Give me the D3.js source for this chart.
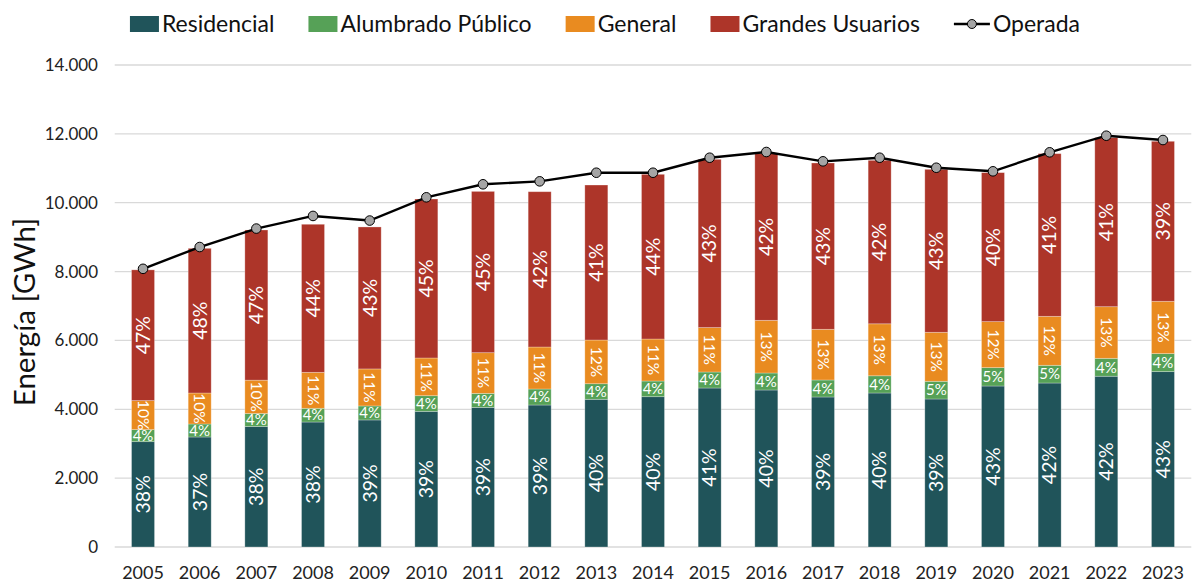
<!DOCTYPE html>
<html><head><meta charset="utf-8">
<script src="https://cdn.jsdelivr.net/npm/d3@7"></script>
<style>body{margin:0;background:#fff}svg{display:block}text{font-family:Lato,"Noto Sans",sans-serif}</style>
</head><body><svg id="c" width="1196" height="584"></svg>
<script>
const years = ["2005","2006","2007","2008","2009","2010","2011","2012","2013","2014","2015","2016","2017","2018","2019","2020","2021","2022","2023"];
const residencial = [3060,3195,3500,3630,3690,3940,4055,4124,4290,4366,4618,4560,4357,4473,4299,4676,4763,4960,5094];
const alumbrado   = [350,378,378,398,407,455,407,465,453,455,465,494,494,500,514,534,514,520,523];
const general     = [842,900,968,1045,1075,1095,1182,1220,1269,1220,1290,1530,1472,1510,1423,1336,1423,1500,1520];
const grandes     = [3798,4202,4362,4301,4124,4618,4685,4511,4502,4784,4887,4841,4831,4748,4734,4328,4725,4910,4647];
const operada     = [8080,8713,9249,9616,9482,10157,10535,10621,10871,10871,11307,11473,11202,11307,11016,10912,11464,11946,11821];
const pctRes = [38,37,38,38,39,39,39,39,40,40,41,40,39,40,39,43,42,42,43];
const pctAlu = [4,4,4,4,4,4,4,4,4,4,4,4,4,4,5,5,5,4,4];
const pctGen = [10,10,10,11,11,11,11,11,12,11,11,13,13,13,13,12,12,13,13];
const pctGra = [47,48,47,44,43,45,45,42,41,44,43,42,43,42,43,40,41,41,39];
const yTicks = [0,2000,4000,6000,8000,10000,12000,14000];
const seriesNames = ["Residencial","Alumbrado Público","General","Grandes Usuarios"];
const lineName = "Operada";
const colors = ["#20545A","#56A157","#E98B20","#AD3529"];

const svg = d3.select("#c");
const x = d3.scaleBand().domain(years).range([114.7,1191.3]).paddingInner(0.594).paddingOuter(0.297);
const y = d3.scaleLinear().domain([0,14000]).range([547,65]);

svg.append("g").selectAll("line").data(yTicks).join("line")
  .attr("x1",114.7).attr("x2",1191.3).attr("y1",d=>y(d)).attr("y2",d=>y(d))
  .attr("stroke","#D9D9D9").attr("stroke-width",1.3);

const fmt = d => d3.format(",")(d).replace(/,/g,".");
svg.append("g").selectAll("text").data(yTicks).join("text")
  .attr("x",98).attr("y",d=>y(d)).attr("dy","0.35em").attr("text-anchor","end")
  .attr("font-size",17).attr("fill","#222").text(fmt);

svg.append("g").selectAll("text").data(years).join("text")
  .attr("x",d=>x(d)+x.bandwidth()/2).attr("y",579).attr("text-anchor","middle")
  .attr("font-size",18).attr("fill","#222").text(d=>d);

svg.append("text").attr("transform","translate(35,312) rotate(-90)").attr("text-anchor","middle")
  .attr("font-size",29.5).attr("fill","#111").text("Energía [GWh]");

const rows = years.map((yr,i)=>({year:yr,s0:residencial[i],s1:alumbrado[i],s2:general[i],s3:grandes[i]}));
const stack = d3.stack().keys(["s0","s1","s2","s3"])(rows);
const pcts = [pctRes,pctAlu,pctGen,pctGra];

const gBars = svg.append("g");
stack.forEach((layer,k)=>{
  gBars.append("g").selectAll("rect").data(layer).join("rect")
    .attr("x",d=>x(d.data.year)).attr("width",x.bandwidth())
    .attr("y",d=>y(d[1])).attr("height",d=>y(d[0])-y(d[1]))
    .attr("fill",colors[k]).attr("stroke","rgba(255,255,255,0.35)").attr("stroke-width",0.8);
});

stack.forEach((layer,k)=>{
  const g = svg.append("g");
  layer.forEach((d,i)=>{
    const cx = x(d.data.year)+x.bandwidth()/2;
    const cy = (y(d[0])+y(d[1]))/2;
    const t = g.append("text").attr("fill","#fff").attr("text-anchor","middle").attr("dy","0.35em").text(pcts[k][i]+"%");
    if(k===1){
      t.attr("x",cx).attr("y",cy).attr("font-size",15);
    } else if(k===2){
      t.attr("transform",`translate(${cx},${cy}) rotate(90)`).attr("font-size",15.5);
    } else {
      t.attr("transform",`translate(${cx},${cy}) rotate(-90)`).attr("font-size",19.5);
    }
  });
});

const line = d3.line().x((d,i)=>x(years[i])+x.bandwidth()/2).y(d=>y(d));
svg.append("path").datum(operada).attr("d",line).attr("fill","none").attr("stroke","#000").attr("stroke-width",2.4);
svg.append("g").selectAll("circle").data(operada).join("circle")
  .attr("cx",(d,i)=>x(years[i])+x.bandwidth()/2).attr("cy",d=>y(d)).attr("r",4.8)
  .attr("fill","#A5A5A5").attr("stroke","#000").attr("stroke-width",1);

const lg = svg.append("g");
const items = seriesNames.map((n,i)=>({name:n,type:"rect",color:colors[i]})).concat([{name:lineName,type:"line"}]);
let cx = 0;
items.forEach(it=>{
  const g = lg.append("g").attr("transform",`translate(${cx},0)`);
  let sw;
  if(it.type==="rect"){
    g.append("rect").attr("x",0).attr("y",16).attr("width",29).attr("height",16).attr("fill",it.color);
    sw=29;
  } else {
    g.append("line").attr("x1",0).attr("x2",36).attr("y1",24).attr("y2",24).attr("stroke","#000").attr("stroke-width",2.4);
    g.append("circle").attr("cx",18).attr("cy",24).attr("r",4.5).attr("fill","#A5A5A5").attr("stroke","#000");
    sw=36;
  }
  const t = g.append("text").attr("x",sw+3).attr("y",32).attr("font-size",23).attr("fill","#111").text(it.name);
  const w = t.node().getComputedTextLength();
  cx += sw+3+w+34;
});
const total = cx-34;
lg.attr("transform",`translate(${605-total/2},0)`);
</script></body></html>
